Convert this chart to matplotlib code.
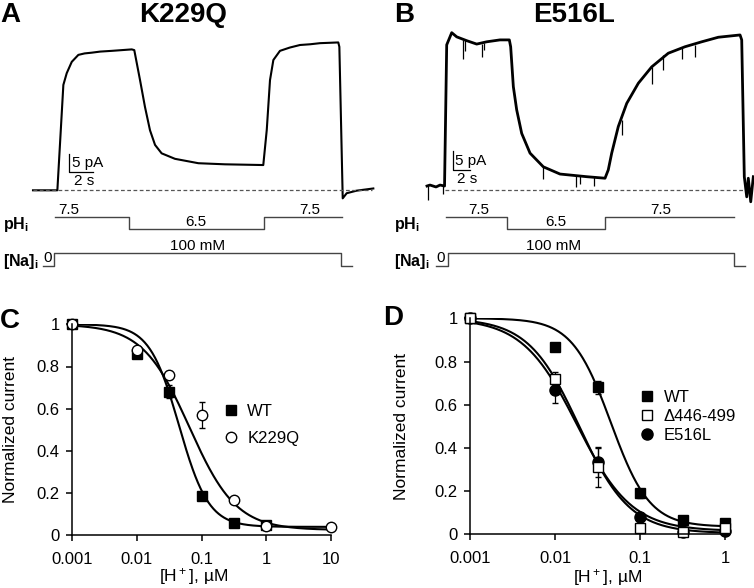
import numpy as np
import matplotlib
matplotlib.use("Agg")
import matplotlib.pyplot as plt

plt.rcParams['font.family'] = ['Liberation Sans', 'DejaVu Sans']
plt.rcParams['mathtext.fontset'] = 'custom'
plt.rcParams['mathtext.rm'] = 'Liberation Sans'
plt.rcParams['mathtext.bf'] = 'Liberation Sans:bold'
plt.rcParams['mathtext.default'] = 'regular'

# ---------------- data ----------------
# panel A trace (K229Q): time (s), current (pA)
trace_a_t = [0, 2.03, 2.53, 2.81, 3.23, 3.78, 4.3, 4.89, 5.6, 6.56, 7.4, 8.23, 8.44,
             8.92, 9.33, 9.75, 10.17, 10.72, 11.83, 13.78, 16.0, 19.19, 19.48, 19.75,
             20.03, 20.58, 21.4, 22.25, 23.1, 23.92, 24.7, 25.44, 25.53, 25.81, 26.14,
             26.97, 28.36]
trace_a_i = [0, 0, 28.8, 32.0, 35.1, 37.0, 37.4, 37.6, 37.9, 38.1, 38.3, 38.5, 38.3,
             30.1, 22.8, 16.4, 12.4, 10.1, 8.6, 7.4, 7.1, 6.9, 16.5, 30.1,
             35.6, 38.1, 39.0, 39.7, 39.9, 40.2, 40.3, 40.4, 39.2, -2.2, -0.8,
             -0.1, 0.5]

# panel B trace (E516L): time (s), current (pA)
trace_b_t = [0, 0.36, 1.08, 1.56, 2.10, 2.36, 2.96, 3.56, 4.75, 5.95, 7.15, 8.74, 9.86,
             10.02, 10.34, 10.74, 11.34, 12.34, 13.93, 15.93, 19.13, 21.32, 21.71, 22.12,
             22.91, 23.92, 25.31, 26.91, 28.90, 30.90, 32.90, 34.89, 37.49, 37.69, 38.0,
             38.29, 38.48, 38.77, 39.08]
trace_b_i = [1.05, 1.3, 0.8, 1.3, 1.05, 38.2, 41.4, 40.3, 39.3, 38.4, 39.0, 39.5, 39.5,
             37.7, 27.2, 21.1, 14.9, 9.7, 6.1, 4.2, 3.5, 3.1, 5.3, 9.7,
             16.7, 22.8, 28.1, 32.4, 36.0, 37.7, 39.0, 40.2, 40.8, 39.5, 3.5,
             -1.8, 3.1, -3.1, 3.5]
# brief downward spikes in trace B: time (s), top and bottom (pA)
spike_b_t = [0.06, 1.92, 4.37, 4.5, 6.55, 6.8, 13.95, 17.9, 18.3, 20.0, 23.3, 26.91,
             28.25, 30.55, 32.05]
spike_b_top = [1.0, 1.0, 39.5, 39.4, 38.5, 38.6, 6.1, 3.8, 3.7, 3.3, 18.4, 32.4,
               35.5, 37.3, 38.2]
spike_b_bot = [-2.6, -1.0, 34.5, 36.5, 35.0, 36.8, 2.8, 0.8, 1.5, 1.0, 14.5, 28.0,
               31.7, 34.5, 35.0]

# solution protocols: switch times (s) and levels
ph_a_t = [1.83, 8.03, 8.03, 19.28, 19.28, 25.72]
ph_a_v = [7.5, 7.5, 6.5, 6.5, 7.5, 7.5]
na_a_t = [0.86, 1.78, 1.78, 25.64, 25.64, 26.56]
na_a_v = [0, 0, 100, 100, 0, 0]
ph_b_t = [2.31, 9.58, 9.58, 21.35, 21.35, 36.8]
ph_b_v = [7.5, 7.5, 6.5, 6.5, 7.5, 7.5]
na_b_t = [1.11, 2.48, 2.48, 36.73, 36.73, 38.05]
na_b_v = [0, 0, 100, 100, 0, 0]

# panel C dose-response
conc_c = [0.001, 0.01, 0.0316, 0.1, 0.316, 1, 10]
c_wt = [1.0, 0.86, 0.68, 0.185, 0.06, 0.05]
c_wt_err = [0.0, 0.01, 0.03, 0.02, 0.01, 0.01]
c_k229q = [1.0, 0.88, 0.76, 0.57, 0.165, 0.045, 0.04]
c_k229q_err = [0.0, 0.01, 0.02, 0.06, 0.01, 0.01, 0.01]

# panel D dose-response
conc_d = [0.001, 0.01, 0.0316, 0.1, 0.316, 1]
d_wt = [1.0, 0.866, 0.68, 0.19, 0.066, 0.054]
d_wt_err = [0.0, 0.01, 0.03, 0.02, 0.01, 0.01]
d_del = [1.0, 0.72, 0.31, 0.03, 0.012, 0.028]
d_del_err = [0.0, 0.03, 0.09, 0.01, 0.005, 0.01]
d_e516l = [1.0, 0.668, 0.333, 0.079, 0.01, 0.015]
d_e516l_err = [0.0, 0.06, 0.07, 0.01, 0.005, 0.01]

# Hill fits: (IC50 uM, Hill coefficient, bottom)
fit_c_wt = (0.045, 1.9, 0.04)
fit_c_k229q = (0.065, 1.2, 0.025)
fit_d_wt = (0.045, 1.9, 0.035)
fit_d_del = (0.019, 1.45, 0.005)
fit_d_e516l = (0.018, 1.35, 0.015)

# ---------------- layout helpers ----------------
W, H = 754, 588
fig = plt.figure(figsize=(W / 100, H / 100), dpi=100)


def px_axes(x0, y0, x1, y1):
    return fig.add_axes([x0 / W, 1 - y1 / H, (x1 - x0) / W, (y1 - y0) / H])


def map_limits(ax, rect, xref_px, xref, xscale, yref_py, yref, yscale):
    x0, y0, x1, y1 = rect
    ax.set_xlim(xref + (x0 - xref_px) / xscale, xref + (x1 - xref_px) / xscale)
    ax.set_ylim(yref - (y1 - yref_py) / yscale, yref + (yref_py - y0) / yscale)
    ax.axis('off')


def hill(x, p):
    ic50, n, bottom = p
    return bottom + (1 - bottom) / (1 + (x / ic50) ** n)


def trace_panel(x0, x1, t0_px, base_py, px_s, px_pa, t, i, lw,
                ph_t, ph_v, na_t, na_v, ph_lab, na_lab, bar, bar_lab, dash):
    r = (x0, 20, x1, 205)
    ax = px_axes(*r)
    map_limits(ax, r, t0_px, 0, px_s, base_py, 0, px_pa)
    ax.plot(t, i, color='black', lw=lw, solid_joinstyle='round')
    ax.plot(dash, [0, 0], color='#555555', lw=0.9, ls=(0, (3, 2)))
    bt, bi = bar
    ax.plot([bt, bt, bt + 2], [bi + 5, bi, bi], color='black', lw=0.9)
    ax.text(bar_lab[0], bar_lab[1], '5 pA', fontsize=11, va='center', ha='left')
    ax.text(bar_lab[2], bar_lab[3], '2 s', fontsize=11, va='center', ha='left')

    r = (x0, 205, x1, 238)
    axp = px_axes(*r)
    map_limits(axp, r, t0_px, 0, px_s, 217.3, 7.5, 12.0)
    axp.plot(ph_t, ph_v, color='#444444', lw=1.0)
    for tx, val in ph_lab:
        axp.text(tx, val + 0.06, str(val), fontsize=11, ha='center', va='bottom')

    r = (x0, 238, x1, 275)
    axn = px_axes(*r)
    map_limits(axn, r, t0_px, 0, px_s, 265.7, 0, 0.124)
    axn.plot(na_t, na_v, color='#444444', lw=1.0)
    axn.text(na_lab[0], 6, '0', fontsize=11, ha='center', va='bottom')
    axn.text(na_lab[1], 106, '100 mM', fontsize=11, ha='center', va='bottom')
    return ax


trace_panel(0, 377, 33, 190.3, 12.0, 3.66, trace_a_t, trace_a_i, 1.5,
            ph_a_t, ph_a_v, na_a_t, na_a_v,
            [(3.0, 7.5), (13.6, 6.5), (23.1, 7.5)], (1.25, 13.7),
            (3.03, 4.9), (3.25, 7.5, 3.4, 2.6), [0, 28.25])
axb = trace_panel(377, 754, 427, 190.0, 8.35, 3.8, trace_b_t, trace_b_i, 2.0,
                  ph_b_t, ph_b_v, na_b_t, na_b_v,
                  [(6.19, 7.5), (15.37, 6.5), (27.94, 7.5)], (1.6, 15.17),
                  (3.15, 5.3), (3.4, 7.7, 3.6, 2.8), [2.16, 37.96])
axb.vlines(spike_b_t, spike_b_bot, spike_b_top, color='black', lw=0.9)

fig.text(0 / W, 1 - 15 / H, 'A', fontsize=20, fontweight='bold', va='center', ha='left')
fig.text(183 / W, 1 - 15 / H, 'K229Q', fontsize=20, fontweight='bold', va='center', ha='center')
fig.text(394 / W, 1 - 15 / H, 'B', fontsize=20, fontweight='bold', va='center', ha='left')
fig.text(574 / W, 1 - 15 / H, 'E516L', fontsize=20, fontweight='bold', va='center', ha='center')
for xo in (3, 394):
    fig.text(xo / W, 1 - 224 / H, 'pH$_i$', fontsize=11.5, fontweight='bold', va='center')
    fig.text(xo / W, 1 - 262 / H, '[Na]$_i$', fontsize=11.5, fontweight='bold', va='center')


# ---------------- dose-response panels ----------------
def style_dr(ax, xmax):
    ax.set_xscale('log')
    ax.set_xlim(0.001, xmax)
    ax.set_ylim(0, 1)
    ax.set_yticks([0, 0.2, 0.4, 0.6, 0.8, 1])
    ax.set_yticklabels(['0', '0.2', '0.4', '0.6', '0.8', '1'])
    ticks = [t for t in [0.001, 0.01, 0.1, 1, 10] if t <= xmax]
    ax.set_xticks(ticks)
    ax.set_xticklabels([('%g' % t) for t in ticks])
    ax.minorticks_off()
    for s in ('top', 'right'):
        ax.spines[s].set_visible(False)
    for s in ('left', 'bottom'):
        ax.spines[s].set_linewidth(1.1)
    ax.tick_params(direction='out', length=4, width=1.1, labelsize=12)
    ax.tick_params(axis='x', pad=8)
    ax.tick_params(axis='y', pad=5)
    ax.set_ylabel('Normalized current', fontsize=12.5)
    ax.set_xlabel('[H$^+$], µM', fontsize=12.5)


eb = dict(ecolor='black', elinewidth=0.9, capsize=2.5, capthick=0.9, ls='none',
          markeredgecolor='black', markeredgewidth=1.0, clip_on=False)
leg = dict(loc='upper left', frameon=False, fontsize=12, handlelength=1.0,
           handletextpad=0.5, borderaxespad=0)

axc = px_axes(72, 324.3, 331, 535.3)
style_dr(axc, 10)
xs = np.logspace(-3, 1, 400)
axc.plot(xs, hill(xs, fit_c_wt), color='black', lw=1.5)
axc.plot(xs, hill(xs, fit_c_k229q), color='black', lw=1.5)
e1 = axc.errorbar(conc_c[:6], c_wt, yerr=c_wt_err, marker='s', ms=7.5, mfc='black', **eb)
e2 = axc.errorbar(conc_c, c_k229q, yerr=c_k229q_err, marker='o', ms=7.5, mfc='white', **eb)
axc.legend([e1[0], e2[0]], ['WT', 'K229Q'], bbox_to_anchor=(0.555, 0.655),
           labelspacing=0.75, **leg)
axc.yaxis.set_label_coords(-0.21, 0.5)
axc.xaxis.set_label_coords(0.47, -0.145)

axd = px_axes(470.3, 318.3, 725.3, 534.3)
style_dr(axd, 1)
xs = np.logspace(-3, 0, 400)
axd.plot(xs, hill(xs, fit_d_wt), color='black', lw=1.5)
axd.plot(xs, hill(xs, fit_d_del), color='black', lw=1.5)
axd.plot(xs, hill(xs, fit_d_e516l), color='black', lw=1.5)
f1 = axd.errorbar(conc_d, d_wt, yerr=d_wt_err, marker='s', ms=7.5, mfc='black', **eb)
f3 = axd.errorbar(conc_d, d_e516l, yerr=d_e516l_err, marker='o', ms=8, mfc='black', **eb)
f2 = axd.errorbar(conc_d, d_del, yerr=d_del_err, marker='s', ms=7.5, mfc='white', **eb)
axd.legend([f1[0], f2[0], f3[0]], ['WT', 'Δ446-499', 'E516L'], bbox_to_anchor=(0.635, 0.70),
           labelspacing=0.25, **leg)
axd.yaxis.set_label_coords(-0.24, 0.5)
axd.xaxis.set_label_coords(0.54, -0.15)

fig.text(0 / W, 1 - 321 / H, 'C', fontsize=20, fontweight='bold', va='center', ha='left')
fig.text(383 / W, 1 - 318 / H, 'D', fontsize=20, fontweight='bold', va='center', ha='left')

fig.savefig('out.png', dpi=100)
